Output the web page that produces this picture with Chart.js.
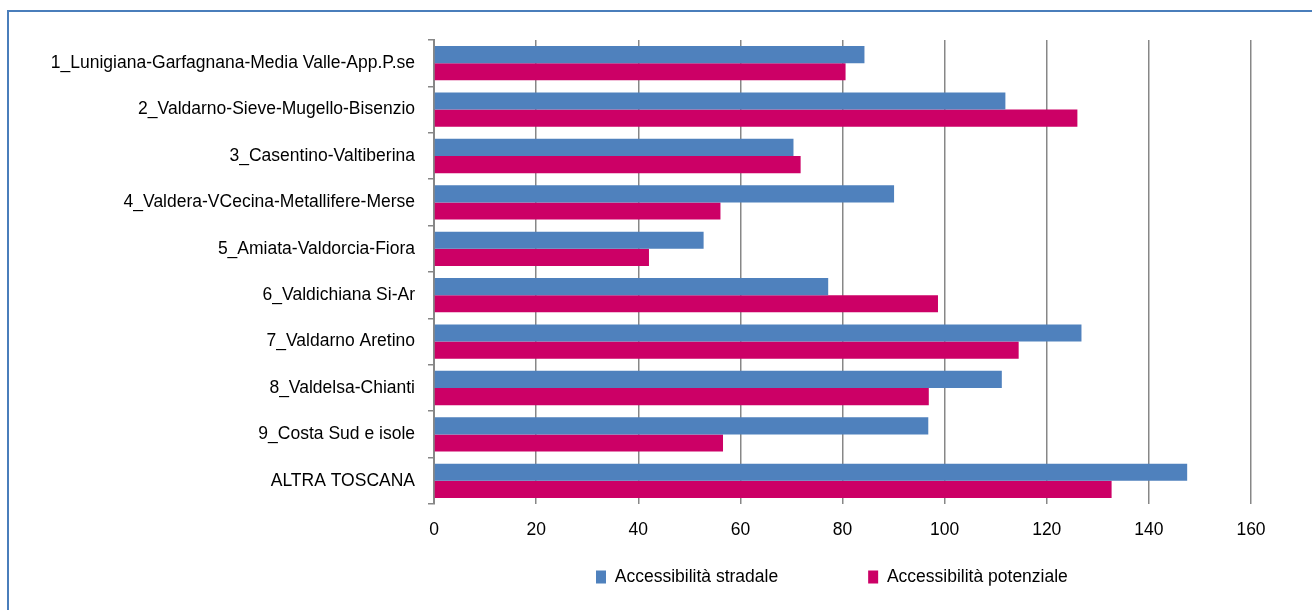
<!DOCTYPE html>
<html>
<head>
<meta charset="utf-8">
<script src="https://cdn.jsdelivr.net/npm/chart.js@4.4.1/dist/chart.umd.min.js"></script>
<style>
  html, body { margin: 0; padding: 0; background: #ffffff; overflow: hidden; }
  #wrap { position: relative; width: 1312px; height: 610px; overflow: hidden; }
  #frame { position: absolute; left: 7px; top: 10px; width: 1400px; height: 700px;
           border: 2px solid #4a7ebb; box-sizing: border-box; }
  #chart { position: absolute; left: 0; top: 0; }
</style>
</head>
<body>
<div id="wrap">
  <div id="frame"></div>
  <canvas id="chart" width="1312" height="610"></canvas>
</div>
<script>
const categories = [
  '1_Lunigiana-Garfagnana-Media Valle-App.P.se',
  '2_Valdarno-Sieve-Mugello-Bisenzio',
  '3_Casentino-Valtiberina',
  '4_Valdera-VCecina-Metallifere-Merse',
  '5_Amiata-Valdorcia-Fiora',
  '6_Valdichiana Si-Ar',
  '7_Valdarno Aretino',
  '8_Valdelsa-Chianti',
  '9_Costa Sud e isole',
  'ALTRA TOSCANA'
];
const accessibilitaStradale = [84.3, 111.9, 70.4, 90.1, 52.8, 77.2, 126.8, 111.2, 96.8, 147.5];
const accessibilitaPotenziale = [80.6, 126.0, 71.8, 56.1, 42.1, 98.7, 114.5, 96.9, 56.6, 132.7];
const xTicks = [0, 20, 40, 60, 80, 100, 120, 140, 160];

const FONT = "'Liberation Sans', Arial, sans-serif";
const FONT_SIZE = 17.5;
const GRID = '#878787';

// Legend sits centred under the plot with a wide gap between the two entries.
const LEGEND_START_X = 596;
const LEGEND_CENTER_Y = 577;
const LEGEND_GAP = 90;

const legendPlacement = {
  id: 'legendPlacement',
  afterLayout(chart) {
    const lg = chart.legend;
    if (!lg) return;
    const lab = lg.options.labels;
    const itemH = Math.max(lab.font.size || FONT_SIZE, lab.boxHeight);
    lg.left = LEGEND_START_X - LEGEND_GAP;
    lg.right = chart.width;
    lg.width = lg.right - lg.left;
    lg.top = LEGEND_CENTER_Y - LEGEND_GAP - itemH / 2;
    lg.bottom = lg.top + LEGEND_GAP + itemH;
    lg.height = lg.bottom - lg.top;
  }
};

new Chart(document.getElementById('chart'), {
  type: 'bar',
  data: {
    labels: categories,
    datasets: [
      {
        label: 'Accessibilità stradale',
        data: accessibilitaStradale,
        backgroundColor: '#4f81bd',
        categoryPercentage: 0.74,
        barPercentage: 1.0
      },
      {
        label: 'Accessibilità potenziale',
        data: accessibilitaPotenziale,
        backgroundColor: '#cc0066',
        categoryPercentage: 0.74,
        barPercentage: 1.0
      }
    ]
  },
  options: {
    indexAxis: 'y',
    responsive: false,
    animation: false,
    devicePixelRatio: 1,
    layout: { padding: { left: 0, right: 61, top: 40, bottom: 20 } },
    scales: {
      x: {
        type: 'linear',
        min: xTicks[0],
        max: xTicks[xTicks.length - 1],
        afterBuildTicks: (scale) => { scale.ticks = xTicks.map(v => ({ value: v })); },
        afterFit: (scale) => { scale.height = 46; },
        grid: { color: GRID, lineWidth: 1.5, drawTicks: false },
        border: { display: false },
        ticks: { color: '#000', padding: 16, font: { family: FONT, size: FONT_SIZE } }
      },
      y: {
        afterFit: (scale) => { scale.width = 434; },
        grid: { offset: true, drawOnChartArea: false, drawTicks: true, tickLength: 6, color: GRID, lineWidth: 1.5 },
        border: { display: true, color: GRID, width: 2 },
        ticks: { color: '#000', padding: 13, autoSkip: false, font: { family: FONT, size: FONT_SIZE } }
      }
    },
    plugins: {
      legend: {
        position: 'bottom',
        align: 'start',
        maxHeight: 40,
        labels: {
          color: '#000',
          boxWidth: 10,
          boxHeight: 13,
          padding: LEGEND_GAP,
          font: { family: FONT, size: FONT_SIZE }
        }
      },
      tooltip: { enabled: false }
    }
  },
  plugins: [legendPlacement]
});
</script>
</body>
</html>
